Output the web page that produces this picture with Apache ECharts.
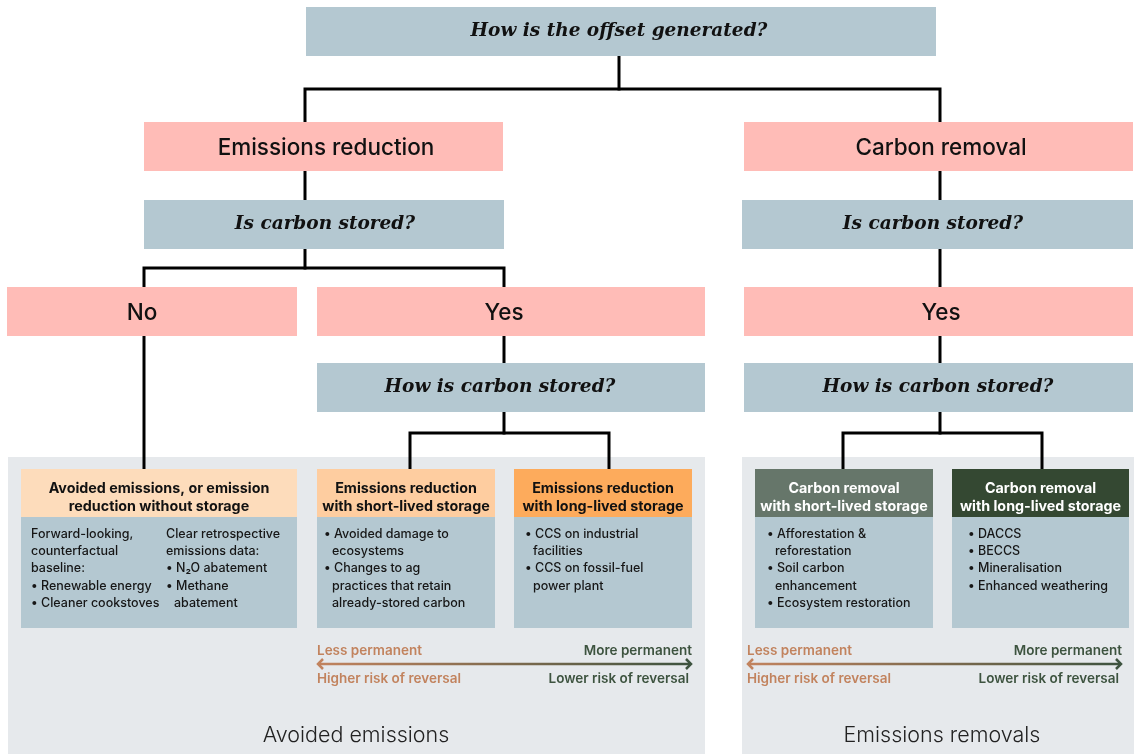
<!DOCTYPE html>
<html>
<head>
<meta charset="utf-8">
<script src="https://cdn.jsdelivr.net/npm/echarts@6/dist/echarts.min.js"></script>
<style>
  html, body { margin: 0; padding: 0; background: #fff; }
  #chart { width: 1134px; height: 754px; }
</style>
</head>
<body>
<div id="chart"></div>
<script>
// ---- text content ----
const questionLabels = [
  'How is the offset generated?',
  'Is carbon stored?',
  'Is carbon stored?',
  'How is carbon stored?',
  'How is carbon stored?'
];
const answerLabels = ['Emissions reduction', 'Carbon removal', 'No', 'Yes', 'Yes'];
const cardTitles = [
  ['Avoided emissions, or emission', 'reduction without storage'],
  ['Emissions reduction', 'with short-lived storage'],
  ['Emissions reduction', 'with long-lived storage'],
  ['Carbon removal', 'with short-lived storage'],
  ['Carbon removal', 'with long-lived storage']
];
// one list of columns per card; a leading "  " marks a wrapped bullet line
const cardBodies = [
  [['Forward-looking,', 'counterfactual', 'baseline:', '• Renewable energy', '• Cleaner cookstoves'],
   ['Clear retrospective', 'emissions data:', '• N₂O abatement', '• Methane', '  abatement']],
  [['• Avoided damage to', '  ecosystems', '• Changes to ag', '  practices that retain', '  already-stored carbon']],
  [['• CCS on industrial', '  facilities', '• CCS on fossil-fuel', '  power plant']],
  [['• Afforestation &', '  reforestation', '• Soil carbon', '  enhancement', '• Ecosystem restoration']],
  [['• DACCS', '• BECCS', '• Mineralisation', '• Enhanced weathering']]
];
const panelLabels = ['Avoided emissions', 'Emissions removals'];
const scaleLabels = ['Less permanent', 'More permanent', 'Higher risk of reversal', 'Lower risk of reversal'];

// ---- layout, in diagram units (x 0..1134, y 0..754 downwards) ----
const questionBoxes = [[306, 7, 936, 56], [144, 200, 504, 249], [742, 200, 1133, 249], [317, 363, 705, 412], [744, 363, 1133, 412]];
const questionTextX = [619, 325, 933, 500, 938];
const answerBoxes = [[144, 122, 503, 171], [744, 122, 1133, 171], [7, 287, 297, 336], [317, 287, 705, 336], [744, 287, 1133, 336]];
const answerTextX = [326, 941, 142, 504, 941];
const cardBoxes = [[21, 469, 297, 628], [317, 469, 495, 628], [514, 469, 692, 628], [755, 469, 933, 628], [952, 469, 1129, 628]];
const cardHeaderBottom = 517;
const cardColumnX = [[31, 166], [324], [525], [767], [968]];
const panelBoxes = [[8, 457, 705, 754], [742, 457, 1134, 754]];
const panelTextX = [356, 942];
const scaleArrows = [[317, 664, 692, 664], [747, 664, 1122, 664]];
const connectors = [
  [[619, 56], [619, 89]],
  [[305, 122], [305, 89], [940, 89], [940, 122]],
  [[305, 171], [305, 200]],
  [[940, 171], [940, 200]],
  [[305, 249], [305, 268]],
  [[144, 287], [144, 268], [504, 268], [504, 287]],
  [[940, 249], [940, 287]],
  [[144, 336], [144, 470]],
  [[504, 336], [504, 363]],
  [[504, 412], [504, 433]],
  [[410, 470], [410, 433], [609, 433], [609, 470]],
  [[940, 336], [940, 363]],
  [[940, 412], [940, 433]],
  [[843, 470], [843, 433], [1042, 433], [1042, 470]]
];

// ---- styles ----
const blue = '#b4c8d1';
const pink = '#ffbcb7';
const panelGrey = '#e6e9ec';
const headerColors = ['#fddcbb', '#fecda0', '#fdab5c', '#66766a', '#344832'];
const headerText = ['#111', '#111', '#111', '#fff', '#fff'];
const warm = '#c2835e';
const cool = '#3d533f';
const sans = 'Inter, Roboto, sans-serif';
const serif = '"DejaVu Serif", "Liberation Serif", serif';

function rectOf(api) {
  const a = api.coord([api.value(0), api.value(1)]);
  const b = api.coord([api.value(2), api.value(3)]);
  return { x: Math.min(a[0], b[0]), y: Math.min(a[1], b[1]), width: Math.abs(b[0] - a[0]), height: Math.abs(b[1] - a[1]) };
}

function labelledBox(labels, textX, fill, textStyle, dy) {
  return function (params, api) {
    const r = rectOf(api);
    const tx = api.coord([textX[params.dataIndex], 0])[0];
    return {
      type: 'group',
      children: [
        { type: 'rect', shape: r, style: { fill: fill } },
        { type: 'text', style: Object.assign({
            text: labels[params.dataIndex], x: tx, y: r.y + r.height / 2 + dy,
            align: 'center', verticalAlign: 'middle', fill: '#111' }, textStyle) }
      ]
    };
  };
}

function renderCard(params, api) {
  const i = params.dataIndex;
  const r = rectOf(api);
  const hb = api.coord([0, cardHeaderBottom])[1];
  const children = [
    { type: 'rect', shape: { x: r.x, y: r.y, width: r.width, height: hb - r.y }, style: { fill: headerColors[i] } },
    { type: 'rect', shape: { x: r.x, y: hb, width: r.width, height: r.y + r.height - hb }, style: { fill: blue } }
  ];
  cardTitles[i].forEach(function (t, k) {
    children.push({ type: 'text', style: {
      text: t, x: r.x + r.width / 2, y: r.y + 20 + k * 17.7, align: 'center', verticalAlign: 'middle',
      fontFamily: sans, fontWeight: 700, fontSize: 14.3, fill: headerText[i] } });
  });
  cardBodies[i].forEach(function (col, c) {
    const cx = api.coord([cardColumnX[i][c], 0])[0];
    col.forEach(function (line, k) {
      const wrapped = line.indexOf('  ') === 0;
      children.push({ type: 'text', style: {
        text: wrapped ? line.trim() : line, x: cx + (wrapped ? 8 : 0), y: hb + 17 + k * 17.3,
        align: 'left', verticalAlign: 'middle',
        fontFamily: sans, fontWeight: 500, fontSize: 12.5, fill: '#161616' } });
    });
  });
  return { type: 'group', children: children };
}

function renderPanel(params, api) {
  const r = rectOf(api);
  const tx = api.coord([panelTextX[params.dataIndex], 0])[0];
  return {
    type: 'group',
    children: [
      { type: 'rect', shape: r, style: { fill: panelGrey } },
      { type: 'text', style: { text: panelLabels[params.dataIndex], x: tx, y: r.y + r.height - 18,
          align: 'center', verticalAlign: 'middle', fontFamily: sans, fontWeight: 300, fontSize: 21.5, fill: '#222' } }
    ]
  };
}

function renderScale(params, api) {
  const a = api.coord([api.value(0), api.value(1)]);
  const b = api.coord([api.value(2), api.value(3)]);
  const grad = new echarts.graphic.LinearGradient(0, 0, 1, 0, [
    { offset: 0, color: warm }, { offset: 1, color: cool }
  ]);
  const lbl = function (t, x, y, align, color) {
    return { type: 'text', style: { text: t, x: x, y: y, align: align, verticalAlign: 'middle',
      fontFamily: sans, fontWeight: 600, fontSize: 13.5, fill: color } };
  };
  return {
    type: 'group',
    children: [
      { type: 'rect', shape: { x: a[0] + 1, y: a[1] - 1.25, width: b[0] - a[0] - 2, height: 2.5 }, style: { fill: grad } },
      { type: 'polyline', shape: { points: [[a[0] + 6, a[1] - 5], [a[0] + 1, a[1]], [a[0] + 6, a[1] + 5]] },
        style: { stroke: warm, lineWidth: 2.5, fill: null } },
      { type: 'polyline', shape: { points: [[b[0] - 6, b[1] - 5], [b[0] - 1, b[1]], [b[0] - 6, b[1] + 5]] },
        style: { stroke: cool, lineWidth: 2.5, fill: null } },
      lbl(scaleLabels[0], a[0], a[1] - 13, 'left', warm),
      lbl(scaleLabels[1], b[0], b[1] - 13, 'right', cool),
      lbl(scaleLabels[2], a[0], a[1] + 15, 'left', warm),
      lbl(scaleLabels[3], b[0] - 3, b[1] + 15, 'right', cool)
    ]
  };
}

const chart = echarts.init(document.getElementById('chart'));
chart.setOption({
  animation: false,
  backgroundColor: '#fff',
  grid: { left: 0, right: 0, top: 0, bottom: 0 },
  xAxis: { type: 'value', min: 0, max: 1134, show: false },
  yAxis: { type: 'value', min: 0, max: 754, inverse: true, show: false },
  series: [
    { type: 'custom', z: 1, clip: false, renderItem: renderPanel, encode: { x: [0, 2], y: [1, 3] }, data: panelBoxes },
    { type: 'custom', z: 2, clip: false, renderItem: renderScale, encode: { x: [0, 2], y: [1, 3] }, data: scaleArrows },
    {
      type: 'lines', z: 3, coordinateSystem: 'cartesian2d', polyline: true, symbol: 'none',
      lineStyle: { color: '#000', width: 3, opacity: 1, join: 'miter', cap: 'square' },
      data: connectors.map(function (c) { return { coords: c }; })
    },
    { type: 'custom', z: 4, clip: false, encode: { x: [0, 2], y: [1, 3] }, data: questionBoxes,
      renderItem: labelledBox(questionLabels, questionTextX, blue, { fontFamily: serif, fontStyle: 'italic', fontWeight: 'bold', fontSize: 18.5 }, 0) },
    { type: 'custom', z: 4, clip: false, encode: { x: [0, 2], y: [1, 3] }, data: answerBoxes,
      renderItem: labelledBox(answerLabels, answerTextX, pink, { fontFamily: sans, fontWeight: 500, fontSize: 22.5 }, 2) },
    { type: 'custom', z: 4, clip: false, renderItem: renderCard, encode: { x: [0, 2], y: [1, 3] }, data: cardBoxes }
  ]
});
</script>
</body>
</html>
